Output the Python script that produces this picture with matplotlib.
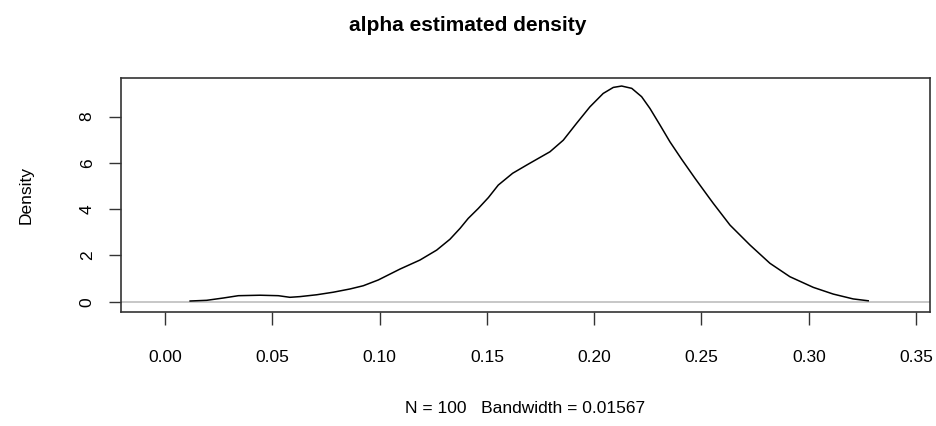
import numpy as np
import matplotlib.pyplot as plt

# density curve (x, estimated density)
alpha_x = [0.0117, 0.0194, 0.0272, 0.0342, 0.0443, 0.0528, 0.0582, 0.0629, 0.0707,
           0.0784, 0.0862, 0.0924, 0.0994, 0.1095, 0.1188, 0.1266, 0.1328, 0.1375,
           0.1413, 0.1460, 0.1507, 0.1553, 0.1620, 0.1690, 0.1794, 0.1856, 0.1918,
           0.1980, 0.2042, 0.2089, 0.2128, 0.2175, 0.2221, 0.2260, 0.2307, 0.2353,
           0.2408, 0.2470, 0.2532, 0.2555, 0.2633, 0.2726, 0.2819, 0.2912, 0.3021,
           0.3114, 0.3207, 0.3277]
density_y = [0.03, 0.06, 0.16, 0.26, 0.28, 0.26, 0.19, 0.22, 0.30,
             0.41, 0.55, 0.69, 0.94, 1.41, 1.80, 2.23, 2.70, 3.17,
             3.60, 4.03, 4.50, 5.04, 5.55, 5.93, 6.48, 6.98, 7.71,
             8.42, 9.00, 9.26, 9.32, 9.22, 8.86, 8.35, 7.63, 6.91,
             6.15, 5.33, 4.54, 4.25, 3.31, 2.45, 1.66, 1.08, 0.62,
             0.33, 0.12, 0.04]

x_ticks = [0.00, 0.05, 0.10, 0.15, 0.20, 0.25, 0.30, 0.35]
y_ticks = [0, 2, 4, 6, 8]

plt.rcParams.update({
    "font.family": "Liberation Sans",
    "font.size": 12,
})

fig = plt.figure(figsize=(9.36, 4.26), dpi=100)
ax = fig.add_axes([0.1293, 0.2676, 0.8643, 0.55])

ax.axhline(0, color="#bebebe", lw=1.2, zorder=1)
ax.plot(alpha_x, density_y, color="black", lw=1.1, zorder=2)

ax.set_xlim(-0.0205, 0.3565)
ax.set_ylim(-0.445, 9.68)
ax.set_xticks(x_ticks)
ax.set_xticklabels([f"{v:.2f}" for v in x_ticks])
ax.set_yticks(y_ticks)
ax.set_yticklabels([str(v) for v in y_ticks], rotation=90, va="center")
ax.tick_params(length=9, width=1, color="#333333", pad=10, labelsize=12.5)
ax.tick_params(axis="x", pad=18)

for s in ax.spines.values():
    s.set_color("#333333")
    s.set_linewidth(1.2)

ax.set_ylabel("Density", fontsize=12.5, labelpad=33)
ax.set_xlabel("N = 100   Bandwidth = 0.01567", fontsize=12.5, labelpad=26)
fig.text(0.5, 0.94, "alpha estimated density", ha="center", va="center",
         fontsize=15, fontweight="bold")

fig.savefig("out.png", dpi=100)
